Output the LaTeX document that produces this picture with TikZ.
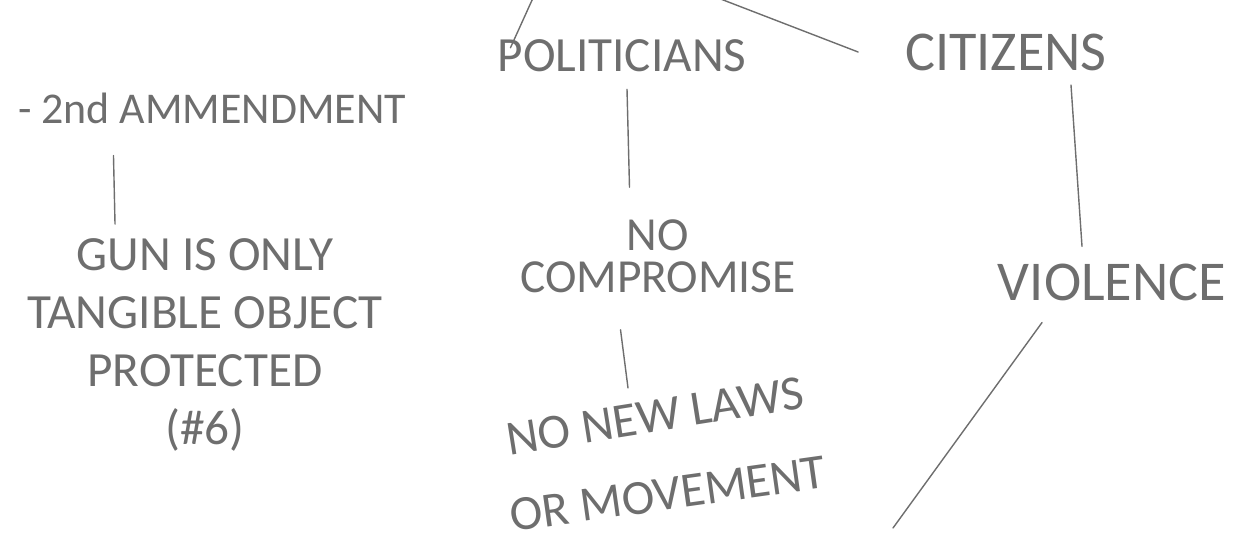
\documentclass[tikz,border=0pt]{standalone}
\usepackage{fontspec}
\setmainfont{Carlito}
\definecolor{ink}{HTML}{6E6E6E}
\tikzset{
    note/.style={text=ink, inner sep=1pt, align=center, font=\fontsize{28}{33}\selectfont},
    link/.style={draw=ink, line width=0.8pt, line cap=round}
}
\begin{document}
\begin{tikzpicture}[x=0.02cm, y=-0.02cm]
    \useasboundingbox (0,0) rectangle (1257,550);

    % Draw the labels
    \node[note, anchor=west, font=\fontsize{25}{30}\selectfont] (amend) at (16,108) {- 2nd AMMENDMENT};
    \node[note] (pol) at (622,56) {POLITICIANS};
    \node[note, font=\fontsize{32}{36}\selectfont] (cit) at (1006,52) {CITIZENS};
    \node[note, font=\fontsize{28}{33}\selectfont] (gun) at (205,345) {GUN IS ONLY\\TANGIBLE OBJECT\\PROTECTED\\(\#6)};
    \node[note, font=\fontsize{27}{24}\selectfont] (comp) at (658,256) {NO\\COMPROMISE};
    \node[note, rotate=9] (laws) at (655,416) {NO NEW LAWS};
    \node[note, rotate=8] (move) at (668,494) {OR MOVEMENT};
    \node[note, font=\fontsize{32}{36}\selectfont] (viol) at (1112,282) {VIOLENCE};

    % Free ends of the lines
    \coordinate (topL) at (533,-2);
    \coordinate (topR) at (718,-2);
    \coordinate (tail) at (893,528);

    % Draw the lines
    \draw[link] (topL) -- ([xshift=0.3cm, yshift=-0.2cm]pol.north west);
    \draw[link] (topR) -- ([xshift=-0.9cm]cit.west);
    \draw[link] ([xshift=1.95cm, yshift=-0.6cm]amend.south west) -- ([xshift=-1.8cm, yshift=0.25cm]gun.north);
    \draw[link] ([xshift=0.1cm, yshift=-0.3cm]pol.south) -- ([xshift=0.15cm, yshift=0.6cm]pol.south |- comp.north);
    \draw[link] ([xshift=-0.75cm, yshift=-0.7cm]comp.south) -- ([xshift=-0.6cm, yshift=0.2cm]comp.south |- laws.north);
    \draw[link] ([xshift=1.3cm, yshift=-0.25cm]cit.south) -- ([xshift=-0.6cm, yshift=0.3cm]viol.north);
    \draw[link] ([xshift=-1.4cm, yshift=-0.4cm]viol.south) -- (tail);
\end{tikzpicture}
\end{document}
